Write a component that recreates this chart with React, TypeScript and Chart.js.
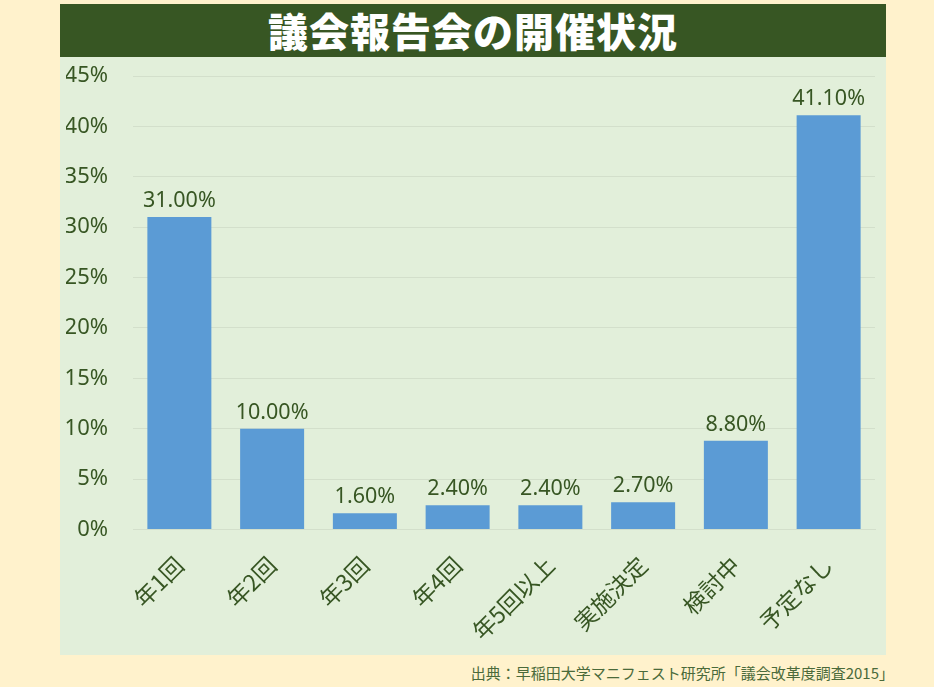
import React, { useEffect, useRef } from "react";
import { Chart, registerables } from "chart.js";

Chart.register(...registerables);

const title = "議会報告会の開催状況";
const source = "出典：早稲田大学マニフェスト研究所「議会改革度調査2015」";
const categories = ["年1回", "年2回", "年3回", "年4回", "年5回以上", "実施決定", "検討中", "予定なし"];
const values = [31.0, 10.0, 1.6, 2.4, 2.4, 2.7, 8.8, 41.1];
const yTicks = [0, 5, 10, 15, 20, 25, 30, 35, 40, 45];

const TEXT = "#375623";
const NUM_FONT = "'Noto Sans', 'Noto Sans CJK JP', sans-serif";
const JP_FONT = "'Noto Sans CJK JP', 'Noto Sans', sans-serif";

const valueLabels = {
  id: "valueLabels",
  afterDatasetsDraw(chart: any) {
    const ctx = chart.ctx;
    const meta = chart.getDatasetMeta(0);
    ctx.save();
    ctx.fillStyle = TEXT;
    ctx.font = `21.5px ${NUM_FONT}`;
    ctx.textAlign = "center";
    ctx.textBaseline = "alphabetic";
    meta.data.forEach((bar: any, i: number) => {
      const v = chart.data.datasets[0].data[i] as number;
      ctx.fillText(v.toFixed(2) + "%", bar.x, bar.y - 10);
    });
    ctx.restore();
  },
};

function BarChart() {
  const ref = useRef<HTMLCanvasElement>(null);
  useEffect(() => {
    if (!ref.current) return;
    const chart = new Chart(ref.current, {
      type: "bar",
      data: {
        labels: categories,
        datasets: [
          {
            data: values,
            backgroundColor: "#5B9BD5",
            borderWidth: 0,
            barPercentage: 0.69,
            categoryPercentage: 1.0,
          },
        ],
      },
      options: {
        responsive: false,
        animation: false,
        layout: {
          padding: { top: 19, left: 6, right: 11, bottom: -12 },
        },
        plugins: {
          legend: { display: false },
          tooltip: { enabled: false },
        },
        scales: {
          x: {
            grid: { display: false, drawTicks: false },
            border: { display: true, color: "#D3DFCB", width: 1 },
            afterFit: (scale: any) => {
              scale.paddingLeft = 0;
              scale.paddingRight = 0;
            },
            ticks: {
              color: TEXT,
              font: { family: JP_FONT, size: 23 },
              minRotation: 45,
              maxRotation: 45,
              padding: 22,
            },
          },
          y: {
            min: 0,
            max: 45,
            afterBuildTicks: (axis: any) => {
              axis.ticks = yTicks.map((v) => ({ value: v }));
            },
            afterFit: (scale: any) => {
              scale.width = 67;
              scale.paddingTop = 0;
              scale.paddingBottom = 0;
            },
            grid: { color: "#D3DFCB", drawTicks: false, lineWidth: 1 },
            border: { display: false },
            ticks: {
              color: TEXT,
              font: { family: NUM_FONT, size: 22 },
              padding: 25,
              callback: (v: any) => v + "%",
            },
          },
        },
      },
      plugins: [valueLabels],
    });
    return () => chart.destroy();
  }, []);
  return <canvas ref={ref} width={826} height={598} style={{ display: "block" }} />;
}

export default function App() {
  return (
    <div
      style={{
        position: "fixed",
        left: 0,
        top: 0,
        width: 934,
        height: 687,
        background: "#FFF2CC",
        overflow: "hidden",
      }}
    >
      <div
        style={{
          position: "absolute",
          left: 60,
          top: 4,
          width: 826,
          height: 53,
          background: "#375623",
          color: "#FFFFFF",
          fontFamily: JP_FONT,
          fontWeight: 900,
          fontSize: 40,
          lineHeight: "53px",
          textAlign: "center",
          letterSpacing: 1,
        }}
      >
        {title}
      </div>
      <div
        style={{
          position: "absolute",
          left: 60,
          top: 57,
          width: 826,
          height: 598,
          background: "#E2EFDA",
          overflow: "hidden",
        }}
      >
        <BarChart />
      </div>
      <div
        style={{
          position: "absolute",
          right: 40,
          top: 661,
          fontFamily: JP_FONT,
          fontSize: 15,
          color: "#4A6A3A",
          whiteSpace: "nowrap",
          lineHeight: "24px",
        }}
      >
        {source}
      </div>
    </div>
  );
}
